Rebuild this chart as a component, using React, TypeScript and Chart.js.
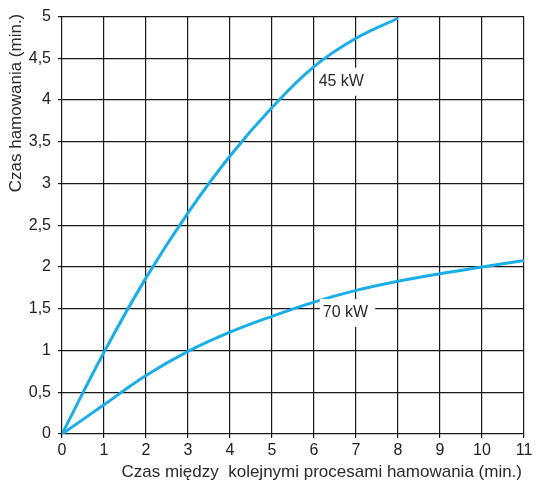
import React, { useEffect, useRef } from "react";
import { Chart, registerables } from "chart.js";

Chart.register(...registerables);

const xValues = [0, 1, 2, 3, 4, 5, 6, 7, 8, 9, 10, 11];
const series45 = [0, 0.98, 1.87, 2.65, 3.33, 3.91, 4.4, 4.74, 4.98];
const series70 = [0, 0.35, 0.7, 0.99, 1.22, 1.41, 1.58, 1.72, 1.83, 1.92, 2.0, 2.08];
const seriesNames = ["45 kW", "70 kW"];
const labelPositions = [
  { x: 6.65, y: 4.22 },
  { x: 6.75, y: 1.45 },
];
const xTitle = "Czas między  kolejnymi procesami hamowania (min.)";
const yTitle = "Czas hamowania (min.)";

const FONT = "'Liberation Sans', Arial, sans-serif";
const BLUE = "#1aaee8";

export default function App() {
  const ref = useRef<HTMLCanvasElement | null>(null);
  useEffect(() => {
    if (!ref.current) return;
    const textPlugin = {
      id: "texts",
      afterDraw(chart: any) {
        const ctx = chart.ctx;
        const xs = chart.scales.x;
        const ys = chart.scales.y;
        ctx.save();
        ctx.font = `16px ${FONT}`;
        seriesNames.forEach((name, i) => {
          const px = xs.getPixelForValue(labelPositions[i].x);
          const py = ys.getPixelForValue(labelPositions[i].y);
          const w = ctx.measureText(name).width;
          ctx.fillStyle = "#ffffff";
          ctx.fillRect(px - w / 2 - 3, py - 14, w + 10, 28);
          ctx.fillStyle = "#2a2a2a";
          ctx.textAlign = "center";
          ctx.textBaseline = "middle";
          ctx.fillText(name, px, py);
        });
        ctx.font = `17px ${FONT}`;
        ctx.fillStyle = "#2a2a2a";
        ctx.textAlign = "right";
        ctx.textBaseline = "middle";
        ctx.fillText(xTitle, 522, 472);
        ctx.translate(16, 103);
        ctx.rotate(-Math.PI / 2);
        ctx.textAlign = "center";
        ctx.fillText(yTitle, 0, 0);
        ctx.restore();
      },
    };
    const chart = new Chart(ref.current, {
      type: "line",
      data: {
        datasets: [
          {
            label: seriesNames[0],
            data: series45.map((v, i) => ({ x: xValues[i], y: v })),
            borderColor: BLUE,
            borderWidth: 3,
            pointRadius: 0,
            tension: 0.4,
          },
          {
            label: seriesNames[1],
            data: series70.map((v, i) => ({ x: xValues[i], y: v })),
            borderColor: BLUE,
            borderWidth: 3,
            pointRadius: 0,
            tension: 0.4,
          },
        ],
      },
      options: {
        responsive: false,
        animation: false,
        layout: { padding: { top: 15, right: 12, left: 0, bottom: 0 } },
        plugins: { legend: { display: false }, tooltip: { enabled: false } },
        scales: {
          x: {
            type: "linear",
            min: 0,
            max: 11,
            border: { display: false },
            grid: { color: "#1a1a1a", lineWidth: 1.2, tickLength: 4 },
            ticks: {
              stepSize: 1,
              color: "#222",
              font: { family: FONT, size: 16 },
              padding: 3,
              maxRotation: 0,
            },
            afterFit(scale: any) {
              scale.height = 50;
            },
          },
          y: {
            type: "linear",
            min: 0,
            max: 5,
            border: { display: false },
            grid: { color: "#1a1a1a", lineWidth: 1.2, tickLength: 4 },
            ticks: {
              stepSize: 0.5,
              color: "#222",
              font: { family: FONT, size: 16 },
              padding: 7,
              callback: (v: any) => String(v).replace(".", ","),
            },
            afterFit(scale: any) {
              scale.width = 62;
            },
          },
        },
      },
      plugins: [textPlugin],
    } as any);
    return () => chart.destroy();
  }, []);
  return (
    <div style={{ position: "fixed", left: 0, top: 0, width: 536, height: 484, background: "#fff" }}>
      <canvas ref={ref} width={536} height={484} style={{ width: 536, height: 484 }} />
    </div>
  );
}
